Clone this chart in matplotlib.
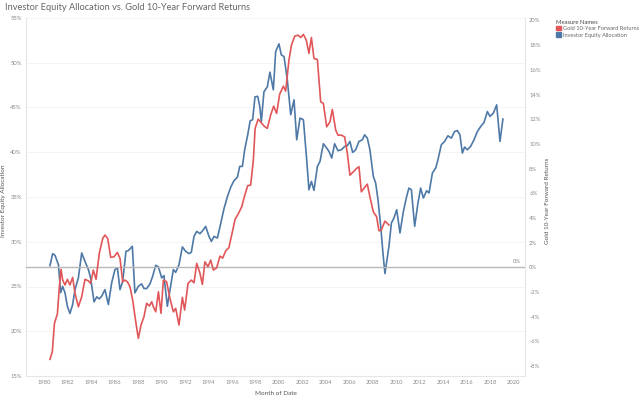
import matplotlib
matplotlib.use("Agg")
import matplotlib.pyplot as plt
from matplotlib.patches import Patch
from matplotlib.ticker import FuncFormatter

plt.rcParams['font.family'] = ['Lato', 'DejaVu Sans']

# Investor equity allocation (left axis, %)
equity_years = [
    1980.51, 1980.74, 1980.94, 1981.23, 1981.42, 1981.59, 1981.79, 1981.99, 1982.21, 1982.44,
    1982.64, 1982.93, 1983.21, 1983.49, 1983.78, 1983.97, 1984.26, 1984.49, 1984.71, 1984.91,
    1985.19, 1985.48, 1985.76, 1986.04, 1986.25, 1986.47, 1986.70, 1986.98, 1987.18, 1987.52,
    1987.74, 1988.03, 1988.31, 1988.51, 1988.74, 1989.02, 1989.25, 1989.51, 1989.74, 1990.02,
    1990.21, 1990.50, 1990.78, 1991.01, 1991.21, 1991.49, 1991.78, 1992.06, 1992.34, 1992.54,
    1992.77, 1993.00, 1993.28, 1993.57, 1993.76, 1994.04, 1994.25, 1994.47, 1994.76, 1995.04,
    1995.32, 1995.61, 1995.89, 1996.17, 1996.46, 1996.66, 1996.89, 1997.08, 1997.34, 1997.55,
    1997.76, 1997.96, 1998.19, 1998.36, 1998.50, 1998.72, 1999.01, 1999.23, 1999.52, 1999.72,
    2000.00, 2000.20, 2000.43, 2000.71, 2001.00, 2001.28, 2001.51, 2001.79, 2002.08, 2002.36,
    2002.55, 2002.76, 2002.98, 2003.27, 2003.49, 2003.78, 2004.06, 2004.26, 2004.49, 2004.74,
    2005.02, 2005.31, 2005.59, 2005.82, 2006.04, 2006.27, 2006.53, 2006.81, 2007.10, 2007.29,
    2007.52, 2007.74, 2008.03, 2008.23, 2008.43, 2008.66, 2008.85, 2009.02, 2009.36, 2009.57,
    2009.79, 2010.02, 2010.30, 2010.59, 2010.87, 2011.06, 2011.27, 2011.55, 2011.83, 2012.06,
    2012.29, 2012.57, 2012.77, 2013.06, 2013.34, 2013.53, 2013.82, 2014.10, 2014.38, 2014.67,
    2014.95, 2015.18, 2015.40, 2015.61, 2015.80, 2016.03, 2016.31, 2016.60, 2016.89, 2017.17,
    2017.45, 2017.74, 2017.96, 2018.25, 2018.53, 2018.81, 2019.06,
]
equity_alloc = [
    27.33, 28.67, 28.48, 27.44, 24.32, 25.02, 24.29, 22.79, 21.98, 22.98,
    24.65, 25.99, 28.75, 27.81, 26.89, 25.96, 23.28, 23.84, 23.62, 23.91,
    24.65, 22.98, 25.40, 26.89, 27.08, 24.65, 25.58, 28.93, 29.01, 29.49,
    24.29, 25.02, 25.29, 24.77, 24.77, 25.29, 26.14, 27.37, 27.19, 25.96,
    26.22, 22.79, 25.02, 26.89, 26.58, 27.44, 29.42, 28.93, 28.67, 28.82,
    30.60, 31.16, 30.90, 31.35, 31.72, 30.60, 30.04, 30.60, 30.42, 32.02,
    33.69, 35.03, 36.09, 36.82, 37.21, 38.42, 38.42, 40.28, 41.95, 43.52,
    43.63, 46.19, 46.25, 45.19, 43.40, 46.75, 47.31, 48.95, 46.98, 51.25,
    52.11, 50.88, 50.69, 48.09, 44.19, 45.86, 41.39, 43.82, 43.63, 39.16,
    35.81, 36.74, 35.74, 38.42, 38.97, 40.95, 40.47, 40.09, 39.35, 40.95,
    40.17, 40.28, 40.65, 40.73, 41.21, 39.98, 40.28, 41.21, 41.39, 41.95,
    41.58, 40.28, 37.30, 36.56, 34.70, 31.72, 28.75, 26.44, 29.49, 32.10,
    32.66, 33.58, 30.98, 33.39, 35.07, 36.00, 35.81, 31.72, 34.33, 36.00,
    34.89, 35.70, 35.45, 37.68, 38.24, 39.16, 40.84, 41.21, 41.84, 41.58,
    42.32, 42.43, 41.95, 39.91, 40.58, 40.28, 40.65, 41.39, 42.32, 42.88,
    43.33, 44.55, 44.00, 44.38, 45.30, 41.21, 43.71,
]

# Gold 10-year forward returns (right axis, %)
gold_years = [
    1980.51, 1980.71, 1980.89, 1981.14, 1981.31, 1981.45, 1981.59, 1981.79, 1981.99, 1982.21,
    1982.44, 1982.64, 1982.93, 1983.21, 1983.49, 1983.78, 1983.97, 1984.20, 1984.43, 1984.71,
    1985.00, 1985.19, 1985.42, 1985.68, 1985.96, 1986.25, 1986.47, 1986.70, 1986.89, 1987.10,
    1987.32, 1987.55, 1987.83, 1988.03, 1988.26, 1988.51, 1988.74, 1988.97, 1989.17, 1989.31,
    1989.51, 1989.74, 1989.96, 1990.16, 1990.44, 1990.72, 1991.01, 1991.21, 1991.49, 1991.78,
    1991.97, 1992.26, 1992.54, 1992.77, 1993.00, 1993.28, 1993.48, 1993.70, 1993.96, 1994.19,
    1994.42, 1994.70, 1994.98, 1995.21, 1995.46, 1995.74, 1996.03, 1996.27, 1996.53, 1996.83,
    1997.08, 1997.34, 1997.59, 1997.82, 1997.97, 1998.23, 1998.49, 1998.74, 1999.01, 1999.29,
    1999.55, 1999.80, 2000.06, 2000.37, 2000.57, 2000.85, 2001.06, 2001.34, 2001.62, 2001.85,
    2002.08, 2002.33, 2002.55, 2002.76, 2002.98, 2003.27, 2003.55, 2003.78, 2004.06, 2004.34,
    2004.54, 2004.83, 2005.02, 2005.31, 2005.59, 2005.82, 2006.04, 2006.33, 2006.61, 2006.81,
    2007.01, 2007.23, 2007.52, 2007.74, 2008.03, 2008.31, 2008.51, 2008.71, 2009.02, 2009.36,
]
gold_returns = [
    -7.45, -6.83, -4.53, -3.78, -1.57, -0.16, -1.03, -1.43, -0.97, -1.43,
    -0.81, -2.11, -3.19, -2.38, -0.97, -1.09, -1.30, -0.22, -0.97, 1.13,
    2.35, 2.62, 2.35, 0.81, 0.86, 1.21, 0.73, -1.17, -1.03, -1.17,
    -1.57, -2.65, -4.53, -5.75, -4.67, -4.00, -2.91, -3.13, -2.79, -3.19,
    -3.60, -1.98, -3.72, -1.03, -1.17, -2.51, -3.60, -3.32, -4.67, -2.43,
    -3.46, -1.30, -1.03, -1.25, 0.32, -0.49, -1.38, 0.45, 0.05, 0.59,
    -0.22, -0.03, 0.91, 0.75, 1.32, 1.60, 2.86, 3.91, 4.32, 4.91,
    5.81, 6.62, 6.66, 8.69, 11.26, 12.01, 11.72, 11.44, 11.26, 12.33,
    13.06, 12.47, 14.03, 14.68, 14.28, 16.79, 18.00, 18.73, 18.81, 18.62,
    18.87, 18.40, 17.33, 18.62, 16.92, 16.84, 13.41, 13.28, 11.38, 11.79,
    12.79, 11.12, 10.71, 10.71, 10.57, 9.23, 7.47, 7.74, 8.02, 8.15,
    6.12, 6.40, 6.74, 5.72, 4.50, 4.10, 2.96, 3.02, 3.75, 3.43,
]

year_ticks = list(range(1980, 2021, 2))
left_ticks = [15, 20, 25, 30, 35, 40, 45, 50, 55]
right_ticks = list(range(-8, 21, 2))

RED = '#e15759'
BLUE = '#4e79a7'
TICK = '#8a8a8a'
LABEL = '#555555'

fig = plt.figure(figsize=(6.4, 3.99), dpi=100)
ax = fig.add_axes([26 / 640, 1 - 376 / 399, 499 / 640, 358 / 399])
ax2 = ax.twinx()

ax.plot(equity_years, equity_alloc, color=BLUE, lw=1.2, zorder=3)
ax2.plot(gold_years, gold_returns, color=RED, lw=1.2, zorder=3)

ax.set_xlim(1978.47, 2020.94)
ax.set_ylim(15.05, 55.0)
ax2.set_ylim(-8.8, 20.2)

ax.set_xticks(year_ticks)
ax.set_yticks(left_ticks)
ax2.set_yticks(right_ticks)
pct = FuncFormatter(lambda v, _: f'{v:.0f}%')
ax.yaxis.set_major_formatter(pct)
ax2.yaxis.set_major_formatter(pct)

for a in (ax, ax2):
    a.tick_params(length=0, labelsize=4.2, labelcolor=TICK, pad=3)
    for s in a.spines.values():
        s.set_visible(False)
ax.spines['left'].set_visible(True)
ax.spines['left'].set_color('#e6e6e6')
ax.spines['bottom'].set_visible(True)
ax.spines['bottom'].set_color('#e6e6e6')
ax2.spines['right'].set_visible(True)
ax2.spines['right'].set_color('#e6e6e6')

ax.grid(axis='y', color='#f2f2f2', lw=0.6)
ax.set_axisbelow(True)

ax2.axhline(0, color='#b8b8b8', lw=1.0, zorder=2)
ax2.text(2020.6, 0.25, '0%', ha='right', va='bottom', fontsize=4.2, color=TICK)

ax.set_xlabel('Month of Date', fontsize=4.6, color=LABEL, labelpad=4)
ax.set_ylabel('Investor Equity Allocation', fontsize=4.6, color=LABEL)
ax.yaxis.set_label_coords(-0.040, 0.49)
ax2.set_ylabel('Gold 10-Year Forward Returns', fontsize=4.6, color=LABEL, rotation=90)
ax2.yaxis.set_label_coords(1.04, 0.49)

fig.text(5 / 640, 1 - 8 / 399, 'Investor Equity Allocation vs. Gold 10-Year Forward Returns',
         fontsize=6.7, color='#666666', va='center', ha='left')

handles = [Patch(color=RED, label='Gold 10-Year Forward Returns'),
           Patch(color=BLUE, label='Investor Equity Allocation')]
leg = fig.legend(handles=handles, title='Measure Names', loc='upper left',
                 bbox_to_anchor=(555 / 640, 1 - 19 / 399), frameon=False,
                 fontsize=4.1, title_fontsize=4.2, handlelength=0.9, handleheight=0.9,
                 handletextpad=0.35, labelspacing=0.2, borderpad=0.1, borderaxespad=0.0,
                 alignment='left')
for t in leg.get_texts():
    t.set_color('#666666')
leg.get_title().set_color('#444444')

fig.savefig('out.png', dpi=100)
